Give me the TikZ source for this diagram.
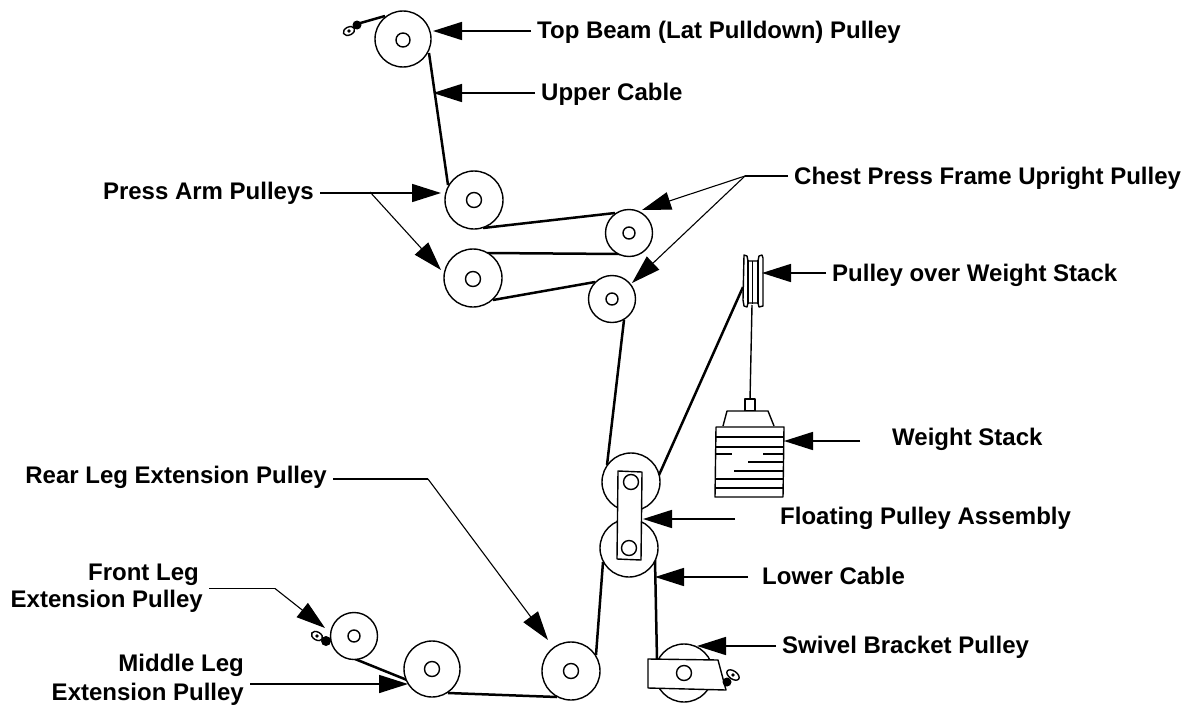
\documentclass[tikz,border=0pt]{standalone}
\usepackage{fontspec}
\setmainfont{Liberation Sans}
\usetikzlibrary{arrows.meta}
\tikzset{
  wheel/.style={circle,draw=black,fill=white,line width=1.4pt,inner sep=0pt,minimum size=#1},
  hub/.style={circle,draw=black,fill=white,line width=1.4pt,inner sep=0pt,minimum size=#1},
  cable/.style={line width=2.5pt,black},
  thin cable/.style={line width=1.4pt,black},
  part/.style={line width=1.4pt,draw=black,fill=white,line join=round},
  lab/.style={font=\bfseries\fontsize{24}{27}\selectfont,inner ysep=0pt,inner xsep=6pt,align=right,text=black},
  leader/.style={line width=1.6pt,black,-{Triangle[length=29pt,width=18pt]}},
  branch/.style={line width=1.1pt,black,-{Triangle[length=29pt,width=18pt]}},
  plain/.style={line width=1.6pt,black},
  stackline/.style={line width=1.3pt,black}
}
\begin{document}
\begin{tikzpicture}[x=1pt,y=-1pt]
\useasboundingbox (0,0) rectangle (1185,704);
% tips and free points
\coordinate (tTop) at (433,31);
\coordinate (tUpper) at (433,93);
\coordinate (tPA1) at (441,193);
\coordinate (tPA2) at (441,270);
\coordinate (jPA) at (370,192);
\coordinate (tCh1) at (642,210);
\coordinate (tCh2) at (632,283);
\coordinate (jCh) at (745,176);
\coordinate (tOver) at (762,273);
\coordinate (tWeight) at (784,441);
\coordinate (tFloat) at (643,519);
\coordinate (tLower) at (655,577);
\coordinate (tSwivel) at (697,646);
\coordinate (jRear) at (428,479);
\coordinate (tRear) at (548,640);
\coordinate (jFront) at (275,588.5);
\coordinate (tFront) at (325,628);
\coordinate (tMiddle) at (408,684);
% cables
\coordinate (a1) at (357,24); \coordinate (a2) at (385,16);
\draw[cable] (a1) -- (a2);
\coordinate (b1) at (429,53); \coordinate (b2) at (448,185);
\draw[cable] (b1) -- (b2);
\coordinate (c1) at (483,228); \coordinate (c2) at (615,213);
\draw[cable] (c1) -- (c2);
\coordinate (d1) at (487,253); \coordinate (d2) at (620,254);
\draw[cable] (d1) -- (d2);
\coordinate (e1) at (493,300); \coordinate (e2) at (595,282);
\draw[cable] (e1) -- (e2);
\coordinate (f1) at (624,320); \coordinate (f2) at (607,465);
\draw[cable] (f1) -- (f2);
\coordinate (g1) at (603,562); \coordinate (g2) at (596,655);
\draw[cable] (g1) -- (g2);
\coordinate (h1) at (659,475); \coordinate (h2) at (743,287);
\draw[cable] (h1) -- (h2);
\coordinate (i1) at (655,560); \coordinate (i2) at (657,660);
\draw[cable] (i1) -- (i2);
\coordinate (j1) at (355,659); \coordinate (j2) at (407,680);
\draw[cable] (j1) -- (j2);
\coordinate (k1) at (448,693); \coordinate (k2) at (557,697);
\draw[cable] (k1) -- (k2);
\coordinate (m1) at (752,305); \coordinate (m2) at (750,400);
\draw[thin cable] (m1) -- (m2);
% pulleys
\node[wheel=56pt] (pTop) at (403,39) {};
\node[hub=14pt] (hTop) at (403,40) {};
\node[wheel=58pt] (pA1) at (474,200) {};
\node[hub=15pt] (hA1) at (474,200) {};
\node[wheel=58pt] (pA2) at (473,278) {};
\node[hub=15pt] (hA2) at (473,279) {};
\node[wheel=47pt] (pC1) at (629,233) {};
\node[hub=12pt] (hC1) at (629,233) {};
\node[wheel=47pt] (pC2) at (612,299) {};
\node[hub=12pt] (hC2) at (612,299) {};
\node[wheel=58pt] (pF1) at (631,482) {};
\node[wheel=58pt] (pF2) at (629,548) {};
\draw[part] (618,471) -- (642,472) -- (641,560) -- (617,559) -- cycle;
\node[hub=15pt] (hF1) at (631,482) {};
\node[hub=15pt] (hF2) at (629,548) {};
\node[wheel=58pt] (pS) at (684,673) {};
\draw[part] (648,659) -- (718,660) -- (726,690) -- (648,688) -- cycle;
\node[hub=15pt] (hS) at (684,673) {};
\node[wheel=58pt] (pR) at (571,671) {};
\node[hub=15pt] (hR) at (571,671) {};
\node[wheel=56pt] (pM) at (432,669) {};
\node[hub=15pt] (hM) at (432,669) {};
\node[wheel=47pt] (pFr) at (354,636) {};
\node[hub=12pt] (hFr) at (354,636) {};
% anchors (eye + ball)
\draw[thin cable,fill=white,rotate around={25:(349,31)}] (349,31) ellipse (6pt and 4pt);
\fill (349,31) circle (1.8pt);
\fill (357,25) circle (4.5pt);
\draw[thin cable,fill=white,rotate around={-30:(317,636)}] (317,636) ellipse (6pt and 4pt);
\fill (317,636) circle (1.8pt);
\fill (326,641) circle (5pt);
\draw[thin cable,fill=white,rotate around={-35:(733,675)}] (733,675) ellipse (7pt and 4pt);
\fill (733,675) circle (1.8pt);
\fill (727,682) circle (4.5pt);
% weight-stack pulley
\draw[part] (744,255) -- (747,256) -- (748,261) -- (753,261) -- (758,261) -- (759,256) -- (762,255) -- (763,258) -- (763,306) -- (759,307) -- (758,303) -- (748,303) -- (747,307) -- (744,306) -- (743,300) -- cycle;
\draw[thin cable] (748,260) -- (748,304);
\draw[thin cable] (758,260) -- (758,304);
\draw[thin cable] (752.5,261) -- (752.5,304);
% weight stack
\draw[part] (745,399) rectangle (755,411);
\draw[part] (723,426) -- (727,411) -- (768,411) -- (774,426);
\draw[part] (716,427) -- (784,427) -- (783,497) -- (715,497) -- cycle;
\draw[stackline] (716,437) -- (784,437);
\draw[stackline] (716,447) -- (783,447);
\draw[stackline] (716,454) -- (732,454);
\draw[stackline] (763,454) -- (783,454);
\draw[stackline] (748,462) -- (783,462);
\draw[stackline] (734,471) -- (783,471);
\draw[stackline] (715,479) -- (783,479);
\draw[stackline] (715,488) -- (783,488);
% labels
\node[lab,anchor=west] (lTop) at (531,32.5) {Top Beam (Lat Pulldown) Pulley};
\node[lab,anchor=west] (lUpper) at (535,94) {Upper Cable};
\node[lab,anchor=east] (lPA) at (320,193) {Press Arm Pulleys};
\node[lab,anchor=west] (lCh) at (788,178) {Chest Press Frame Upright Pulley};
\node[lab,anchor=west] (lOver) at (826,275) {Pulley over Weight Stack};
\node[lab,anchor=west] (lWeight) at (886,439) {Weight Stack};
\node[lab,anchor=west] (lFloat) at (774,518) {Floating Pulley Assembly};
\node[lab,anchor=west] (lLower) at (756,576) {Lower Cable};
\node[lab,anchor=west] (lSwivel) at (776,647) {Swivel Bracket Pulley};
\node[lab,anchor=east] (lRear) at (333,477) {Rear Leg Extension Pulley};
\node[lab,anchor=east] (lFront) at (209,588) {Front Leg\hspace*{4pt}\mbox{}\\Extension Pulley};
\node[lab,anchor=east] (lMiddle) at (250,679.5) {Middle Leg\\[2pt]Extension Pulley};
% leaders
\draw[leader] (lTop.west |- tTop) -- (tTop);
\draw[leader] (lUpper.west |- tUpper) -- (tUpper);
\draw[leader] (lPA.east |- tPA1) -- (tPA1);
\draw[branch] (jPA) -- (tPA2);
\draw[plain] (lCh.west |- jCh) -- (jCh);
\draw[branch] (jCh) -- (tCh1);
\draw[branch] (jCh) -- (tCh2);
\draw[leader] (lOver.west |- tOver) -- (tOver);
\draw[leader] (lWeight.west |- tWeight) ++(-26,0) -- (tWeight);
\draw[leader] (lFloat.west |- tFloat) ++(-39,0) -- (tFloat);
\draw[leader] (lLower.west |- tLower) ++(-8,0) -- (tLower);
\draw[leader] (lSwivel.west |- tSwivel) -- (tSwivel);
\draw[plain] (lRear.east |- jRear) -- (jRear);
\draw[branch] (jRear) -- (tRear);
\draw[plain] (lFront.east |- jFront) -- (jFront);
\draw[branch] (jFront) -- (tFront);
\draw[leader] (lMiddle.east |- tMiddle) -- (tMiddle);
\end{tikzpicture}
\end{document}
